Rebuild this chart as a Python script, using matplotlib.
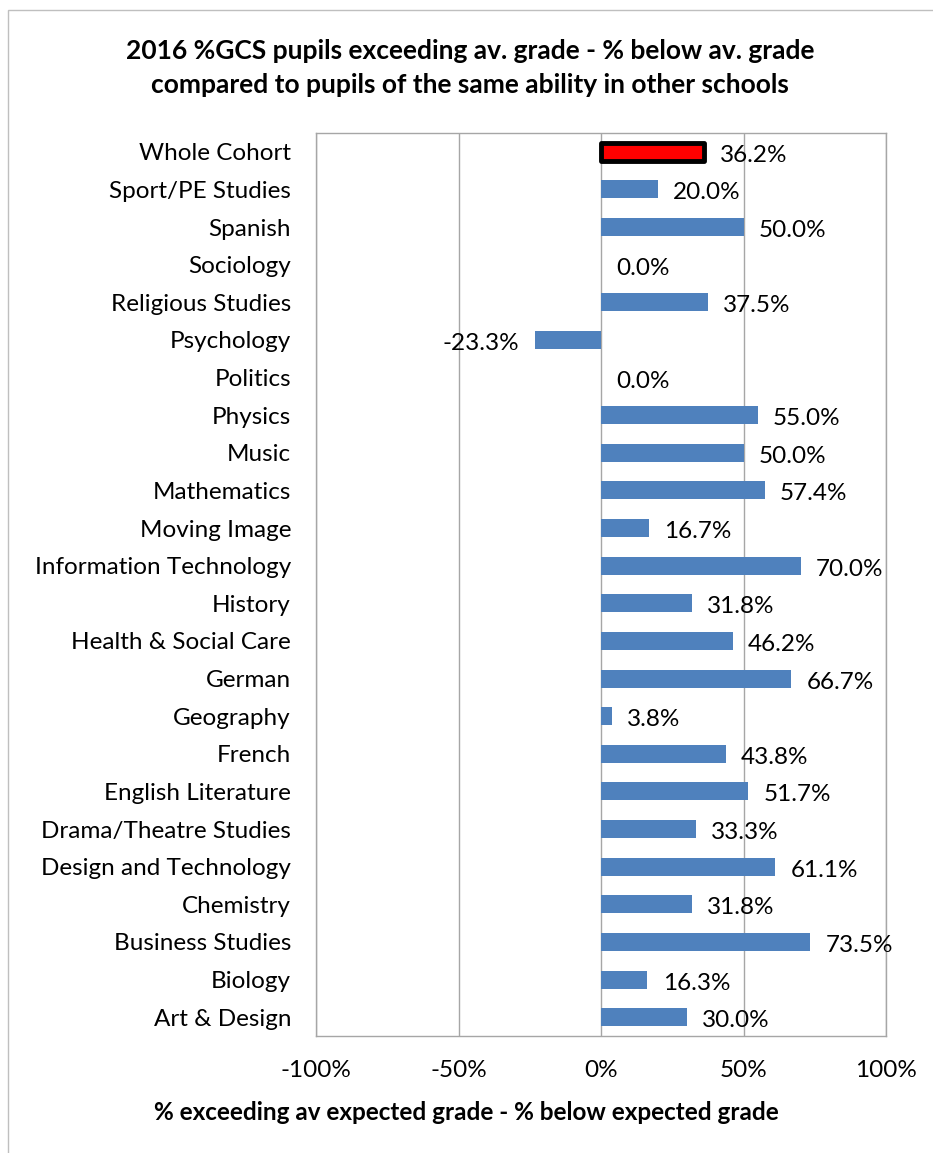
import matplotlib
matplotlib.use('Agg')
import matplotlib.pyplot as plt
from matplotlib.patches import Rectangle
from matplotlib.ticker import FuncFormatter

plt.rcParams['font.family'] = ['Lato', 'DejaVu Sans']

subjects = ['Whole Cohort', 'Sport/PE Studies', 'Spanish', 'Sociology', 'Religious Studies',
            'Psychology', 'Politics', 'Physics', 'Music', 'Mathematics', 'Moving Image',
            'Information Technology', 'History', 'Health & Social Care', 'German', 'Geography',
            'French', 'English Literature', 'Drama/Theatre Studies', 'Design and Technology',
            'Chemistry', 'Business Studies', 'Biology', 'Art & Design']
values = [36.2, 20.0, 50.0, 0.0, 37.5, -23.3, 0.0, 55.0, 50.0, 57.4, 16.7, 70.0, 31.8,
          46.2, 66.7, 3.8, 43.8, 51.7, 33.3, 61.1, 31.8, 73.5, 16.3, 30.0]
xticks = [-100, -50, 0, 50, 100]

W, H = 933, 1153
fig = plt.figure(figsize=(W / 100, H / 100), dpi=100)
ax = fig.add_axes([316 / W, 1 - 1036 / H, 570 / W, 903 / H])

# outer chart border
fig.patches.append(Rectangle((8 / W, -0.01), 1.0, 1 - 10 / H + 0.01, transform=fig.transFigure,
                             fill=False, edgecolor='#BFBFBF', linewidth=1.0))

ypos = list(range(len(subjects)))[::-1]
colors = ['#FF0000'] + ['#4F81BD'] * (len(subjects) - 1)
bars = ax.barh(ypos, values, height=0.48, color=colors, zorder=3)
bars[0].set_edgecolor('black')
bars[0].set_linewidth(3.5)
bars[0].set_joinstyle('round')

for y, v in zip(ypos, values):
    off = 11 if v >= 0 else -11
    ha = 'left' if v >= 0 else 'right'
    ax.annotate('%.1f%%' % v, (v, y), xytext=(off, -2.5), textcoords='offset points',
                ha=ha, va='center', fontsize=17.5, zorder=4)

ax.set_xlim(-100, 100)
ax.set_ylim(-0.5, len(subjects) - 0.5)
ax.set_xticks(xticks)
ax.xaxis.set_major_formatter(FuncFormatter(lambda x, p: '%d%%' % x))
ax.set_yticks(ypos)
ax.set_yticklabels(subjects)
ax.tick_params(axis='both', length=0, labelsize=17.5)
ax.tick_params(axis='y', pad=18)
ax.tick_params(axis='x', pad=17)
ax.grid(axis='x', color='#A6A6A6', linewidth=1.0, zorder=0)
for s in ax.spines.values():
    s.set_color('#A6A6A6')
    s.set_linewidth(1.0)

fig.text(470 / W, 1 - 68 / H,
         '2016 %GCS pupils exceeding av. grade - % below av. grade\ncompared to pupils of the same ability in other schools',
         ha='center', va='center', fontsize=19, fontweight='bold', linespacing=1.5)
fig.text(466 / W, 1 - 1112 / H, '% exceeding av expected grade - % below expected grade',
         ha='center', va='center', fontsize=17.5, fontweight='bold')

plt.savefig('out.png', dpi=100)
